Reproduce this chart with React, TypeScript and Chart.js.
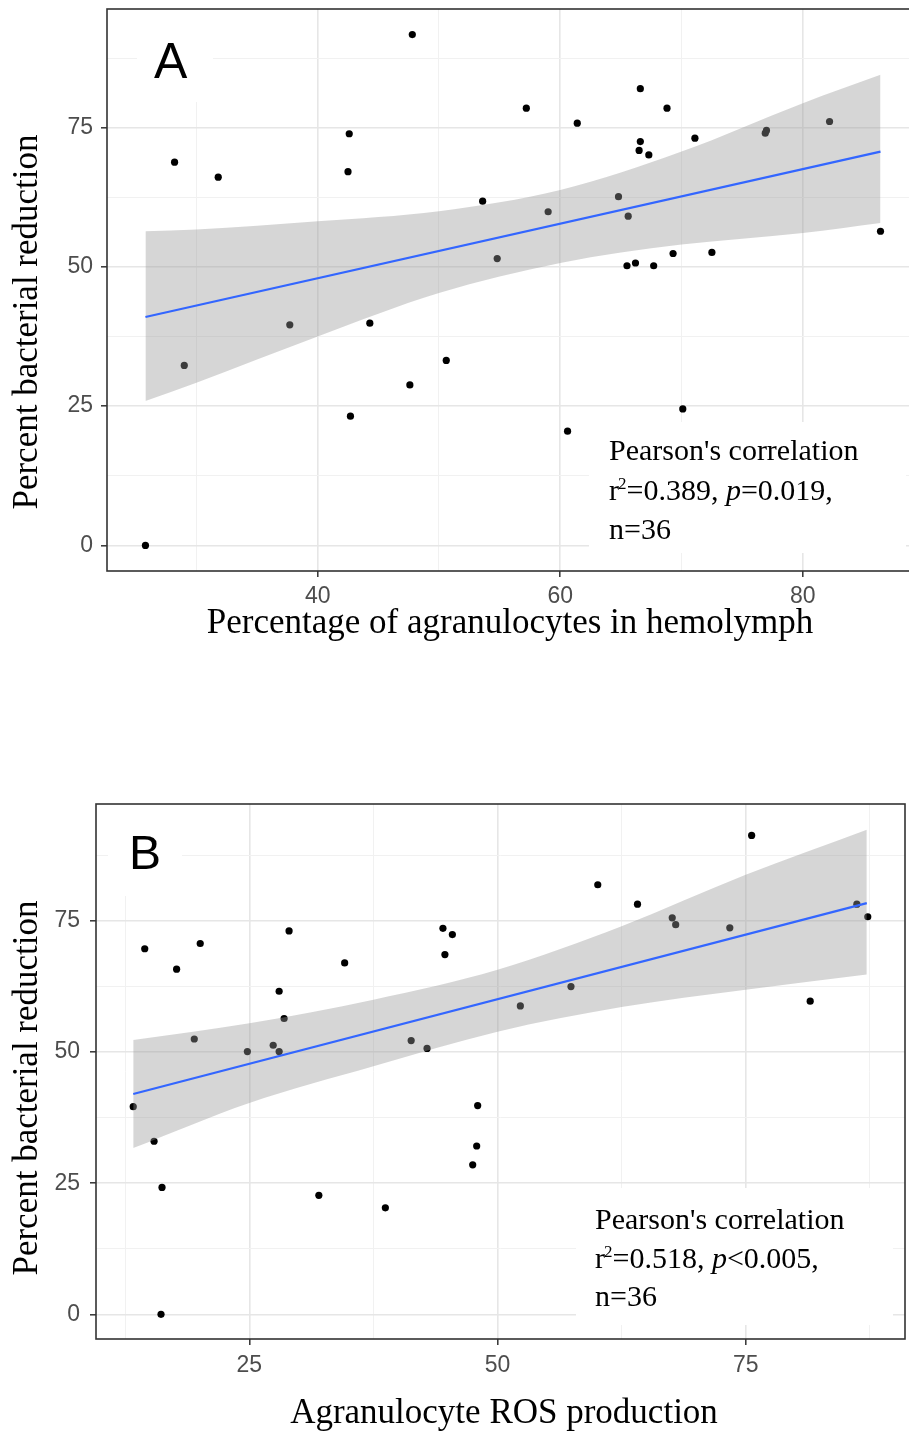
import React, { useEffect, useRef } from "react";
import { Chart, registerables } from "chart.js";

Chart.register(...registerables);

// ---------- Panel A data ----------
const agranulocytePct = [28.2, 31.8, 42.6, 42.5, 47.8, 57.2, 61.4, 66.6, 68.8, 66.6, 66.5, 67.3, 71.1, 76.9, 77.0, 82.2, 53.6, 59.0, 64.8, 65.6, 54.8, 65.5, 66.2, 67.7, 69.3, 72.5, 86.4, 37.7, 29.0, 44.3, 47.6, 42.7, 50.6, 25.8, 60.6, 70.1];
const reductionA = [68.8, 66.1, 73.9, 67.1, 91.7, 78.5, 75.8, 82.0, 78.5, 72.5, 70.9, 70.1, 73.1, 74.0, 74.5, 76.1, 61.8, 59.9, 62.6, 59.1, 51.5, 50.2, 50.7, 50.2, 52.4, 52.6, 56.4, 39.6, 32.3, 39.9, 28.8, 23.2, 33.2, 0, 20.5, 24.5];
const fitAx = [25.8, 86.4];
const fitAy = [41.0, 70.7];
const bandAx = [25.8, 30, 40, 50, 60, 70, 80, 86.4];
const bandAupper = [56.4, 56.7, 58.2, 60.0, 63.8, 70.7, 79.4, 84.5];
const bandAlower = [25.9, 29.2, 37.5, 45.3, 50.7, 54.0, 56.1, 57.9];
const xMajorA = [40, 60, 80];
const xMinorA = [30, 50, 70];

// ---------- Panel B data ----------
const rosProduction = [14.46, 17.67, 20.05, 29.0, 34.6, 28.0, 28.5, 19.45, 24.8, 27.4, 28.0, 41.3, 42.9, 44.5, 45.45, 44.7, 13.3, 60.1, 64.1, 67.6, 67.95, 73.4, 75.6, 86.2, 87.3, 81.5, 57.4, 52.3, 48.0, 15.4, 16.2, 16.1, 32.0, 38.7, 47.9, 47.5];
const reductionB = [69.7, 65.8, 70.7, 73.1, 67.0, 61.6, 56.4, 52.5, 50.1, 51.3, 50.1, 52.2, 50.7, 73.6, 72.4, 68.6, 39.6, 81.9, 78.2, 75.6, 74.3, 73.7, 91.3, 78.2, 75.8, 59.7, 62.5, 58.8, 39.8, 33.0, 24.2, 0, 22.7, 20.3, 32.1, 28.5];
const fitBx = [13.3, 87.2];
const fitBy = [42.0, 78.4];
const bandBx = [13.3, 25, 37.5, 50, 62.5, 75, 87.2];
const bandBupper = [52.3, 55.5, 60.0, 65.7, 74.0, 83.8, 92.4];
const bandBlower = [31.7, 40.3, 47.3, 53.9, 58.6, 61.9, 64.8];
const xMajorB = [25, 50, 75];
const xMinorB = [12.5, 37.5, 62.5, 87.5];

// ---------- shared ----------
const yMajor = [0, 25, 50, 75];
const yMinor = [12.5, 37.5, 62.5, 87.5];
const yTitle = "Percent bacterial reduction";
const xTitleA = "Percentage of agranulocytes in hemolymph";
const xTitleB = "Agranulocyte ROS production";
const statsA = { r2: "0.389", pRel: "=", p: "0.019", n: "36" };
const statsB = { r2: "0.518", pRel: "<", p: "0.005", n: "36" };

const SERIF = '"Liberation Serif", "Times New Roman", Times, serif';
const SANS = '"Liberation Sans", Arial, Helvetica, sans-serif';

function drawPearson(ctx: CanvasRenderingContext2D, x: number, y: number, lh: number, s: any) {
  const f = 30;
  const normal = `${f}px ${SERIF}`;
  ctx.fillStyle = "#000";
  ctx.textAlign = "left";
  ctx.textBaseline = "alphabetic";
  ctx.font = normal;
  ctx.fillText("Pearson's correlation", x, y);
  const y1 = y + lh;
  let cx = x;
  ctx.fillText("r", cx, y1);
  cx += ctx.measureText("r").width;
  ctx.font = `${Math.round(f * 0.58)}px ${SERIF}`;
  ctx.fillText("2", cx - 1, y1 - f * 0.36);
  cx += ctx.measureText("2").width - 1;
  ctx.font = normal;
  const seg1 = `=${s.r2}, `;
  ctx.fillText(seg1, cx, y1);
  cx += ctx.measureText(seg1).width;
  ctx.font = `italic ${f}px ${SERIF}`;
  ctx.fillText("p", cx, y1);
  cx += ctx.measureText("p").width;
  ctx.font = normal;
  ctx.fillText(`${s.pRel}${s.p},`, cx, y1);
  ctx.fillText(`n=${s.n}`, x, y + 2 * lh);
}

function makeChart(canvas: HTMLCanvasElement, spec: any) {
  const isIn = (arr: number[], v: number) => arr.some((m) => Math.abs(m - v) < 1e-6);
  const gridColor = (majors: number[]) => (c: any) => (c.tick && isIn(majors, c.tick.value) ? "#E6E6E6" : "#F1F1F1");
  const gridWidth = (majors: number[]) => (c: any) => (c.tick && isIn(majors, c.tick.value) ? 1.6 : 1);
  const tickColor = (majors: number[]) => (c: any) => (c.tick && isIn(majors, c.tick.value) ? "#333333" : "rgba(0,0,0,0)");

  const decor = {
    id: "decor",
    beforeDatasetsDraw(chart: any) {
      const ctx = chart.ctx;
      ctx.save();
      ctx.fillStyle = "#ffffff";
      for (const b of spec.boxes) ctx.fillRect(b[0], b[1], b[2] - b[0], b[3] - b[1]);
      ctx.restore();
    },
    afterDatasetsDraw(chart: any) {
      const ctx = chart.ctx;
      const a = chart.chartArea;
      ctx.save();
      ctx.fillStyle = "#000";
      ctx.font = `${spec.letterSize}px ${SANS}`;
      ctx.textAlign = "left";
      ctx.textBaseline = "alphabetic";
      ctx.fillText(spec.letter, spec.letterX, spec.letterY);
      drawPearson(ctx, spec.pearsonX, spec.pearsonY, spec.pearsonLH, spec.stats);
      ctx.strokeStyle = "#333333";
      ctx.lineWidth = 1.6;
      ctx.strokeRect(a.left, a.top, a.right - a.left, a.bottom - a.top);
      ctx.fillStyle = "#000";
      ctx.font = `35px ${SERIF}`;
      ctx.textAlign = "center";
      ctx.fillText(spec.xTitle, spec.xTitleX, spec.xTitleY);
      ctx.translate(spec.yTitleX, spec.yTitleY);
      ctx.rotate(-Math.PI / 2);
      ctx.fillText(yTitle, 0, 0);
      ctx.restore();
    },
  };

  const pts = spec.xs.map((x: number, i: number) => ({ x, y: spec.ys[i] }));
  const up = spec.bandX.map((x: number, i: number) => ({ x, y: spec.bandU[i] }));
  const lo = spec.bandX.map((x: number, i: number) => ({ x, y: spec.bandL[i] }));
  const fit = spec.fitX.map((x: number, i: number) => ({ x, y: spec.fitY[i] }));

  return new Chart(canvas, {
    type: "scatter",
    data: {
      datasets: [
        { type: "scatter", data: pts, backgroundColor: "#000", pointRadius: 3.6, borderWidth: 0, order: 3 } as any,
        { type: "line", data: up, borderWidth: 0, borderColor: "rgba(0,0,0,0)", pointRadius: 0, fill: "+1", backgroundColor: "rgba(153,153,153,0.4)", cubicInterpolationMode: "monotone", order: 2 } as any,
        { type: "line", data: lo, borderWidth: 0, borderColor: "rgba(0,0,0,0)", pointRadius: 0, fill: false, cubicInterpolationMode: "monotone", order: 2 } as any,
        { type: "line", data: fit, borderWidth: 2.2, borderColor: "#3366FF", pointRadius: 0, fill: false, order: 1 } as any,
      ],
    },
    options: {
      responsive: false,
      animation: false,
      devicePixelRatio: 1,
      events: [],
      layout: { padding: spec.padding },
      plugins: { legend: { display: false }, tooltip: { enabled: false } },
      scales: {
        x: {
          type: "linear",
          min: spec.xMin,
          max: spec.xMax,
          afterFit: (s: any) => {
            s.height = spec.xAxisHeight;
            s.paddingLeft = 0; s.paddingRight = 0; s.paddingTop = 0; s.paddingBottom = 0;
          },
          afterBuildTicks: (s: any) => {
            s.ticks = [...spec.xMajor, ...spec.xMinor].sort((p: number, q: number) => p - q).map((v: number) => ({ value: v }));
          },
          border: { display: false },
          grid: { color: gridColor(spec.xMajor), lineWidth: gridWidth(spec.xMajor), tickColor: tickColor(spec.xMajor), tickLength: 6, tickWidth: 1.5 },
          ticks: {
            autoSkip: false,
            maxRotation: 0,
            padding: spec.xTickPad,
            color: "#4D4D4D",
            font: { family: SANS, size: 23 },
            callback: (v: any) => (isIn(spec.xMajor, Number(v)) ? String(v) : ""),
          },
        },
        y: {
          type: "linear",
          min: spec.yMin,
          max: spec.yMax,
          afterFit: (s: any) => {
            s.width = spec.yAxisWidth;
            s.paddingLeft = 0; s.paddingRight = 0; s.paddingTop = 0; s.paddingBottom = 0;
          },
          afterBuildTicks: (s: any) => {
            s.ticks = [...yMajor, ...yMinor].sort((p, q) => p - q).map((v) => ({ value: v }));
          },
          border: { display: false },
          grid: { color: gridColor(yMajor), lineWidth: gridWidth(yMajor), tickColor: tickColor(yMajor), tickLength: 6, tickWidth: 1.5 },
          ticks: {
            autoSkip: false,
            padding: spec.yTickPad,
            color: "#4D4D4D",
            font: { family: SANS, size: 23 },
            callback: (v: any) => (isIn(yMajor, Number(v)) ? String(v) : ""),
          },
        },
      },
    } as any,
    plugins: [decor],
  });
}

const specA = {
  padding: { left: 0, top: 9, right: 13, bottom: 49 },
  yAxisWidth: 107, xAxisHeight: 40,
  xMin: 22.63, xMax: 89.41, yMin: -4.6, yMax: 96.3,
  xMajor: xMajorA, xMinor: xMinorA,
  xs: agranulocytePct, ys: reductionA,
  fitX: fitAx, fitY: fitAy, bandX: bandAx, bandU: bandAupper, bandL: bandAlower,
  boxes: [[137, 9, 213, 102], [589, 422, 906, 553]],
  letter: "A", letterSize: 50, letterX: 154, letterY: 78,
  pearsonX: 609, pearsonY: 460, pearsonLH: 39.5, stats: statsA,
  xTitle: xTitleA, xTitleX: 510, xTitleY: 633,
  yTitleX: 37, yTitleY: 322,
  xTickPad: 6, yTickPad: 8,
};

const specB = {
  padding: { left: 0, top: 24, right: 1, bottom: 53 },
  yAxisWidth: 96, xAxisHeight: 40,
  xMin: 9.55, xMax: 91.05, yMin: -4.7, yMax: 97.3,
  xMajor: xMajorB, xMinor: xMinorB,
  xs: rosProduction, ys: reductionB,
  fitX: fitBx, fitY: fitBy, bandX: bandBx, bandU: bandBupper, bandL: bandBlower,
  boxes: [[108, 24, 182, 116], [576, 408, 893, 545]],
  letter: "B", letterSize: 48, letterX: 129, letterY: 89,
  pearsonX: 595, pearsonY: 449, pearsonLH: 38.7, stats: statsB,
  xTitle: xTitleB, xTitleX: 504, xTitleY: 643,
  yTitleX: 37, yTitleY: 308,
  xTickPad: 7, yTickPad: 10,
};

export default function App() {
  const refA = useRef<HTMLCanvasElement>(null);
  const refB = useRef<HTMLCanvasElement>(null);
  useEffect(() => {
    const a = makeChart(refA.current as HTMLCanvasElement, specA);
    const b = makeChart(refB.current as HTMLCanvasElement, specB);
    return () => { a.destroy(); b.destroy(); };
  }, []);
  return (
    <div style={{ position: "absolute", left: 0, top: 0, width: 909, height: 1432, overflow: "hidden", background: "#fff" }}>
      <canvas ref={refA} width={930} height={660} style={{ position: "absolute", left: 0, top: 0, width: 930, height: 660 }} />
      <canvas ref={refB} width={909} height={652} style={{ position: "absolute", left: 0, top: 780, width: 909, height: 652 }} />
    </div>
  );
}
